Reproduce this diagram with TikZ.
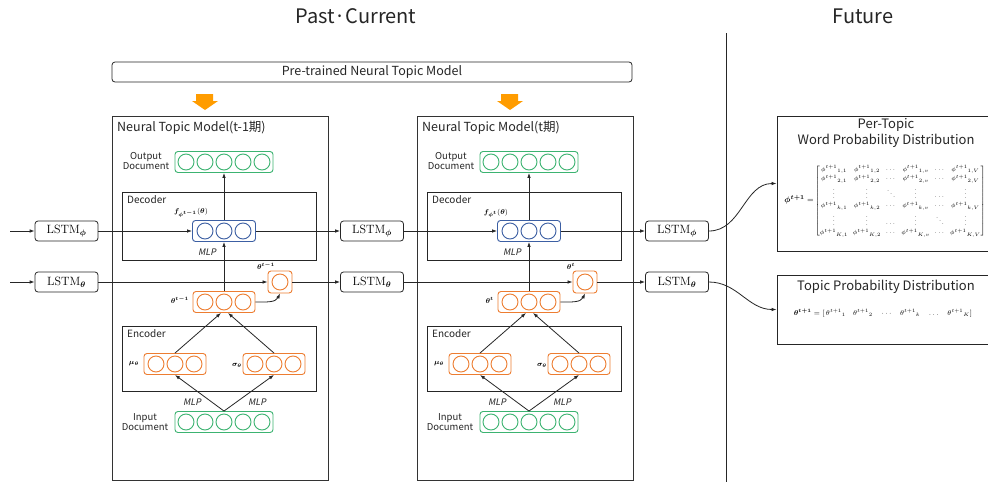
\documentclass[tikz,border=0pt]{standalone}
\usepackage{amsmath,bm}
\usepackage[no-math]{fontspec}
\newfontfamily\jp{Noto Sans CJK JP}
\newfontfamily\jpit{Noto Sans CJK JP}[FakeSlant=0.2]
\usetikzlibrary{arrows.meta,calc}
\definecolor{cgreen}{HTML}{3CB371}
\definecolor{corange}{HTML}{ED7D31}
\definecolor{cblue}{HTML}{3C5FA3}
\definecolor{carrow}{HTML}{FF9C00}
\newcommand\pe[1]{{\phi^{t+1}}_{#1}}
\newcommand\te[1]{{\theta^{t+1}}_{#1}}
\begin{document}
\begin{tikzpicture}[x=1pt,y=-1pt,
  >={Latex[length=5pt,width=3.6pt]},
  line/.style={line width=0.8pt, draw=black!85},
  arr/.style={line, ->},
  lstm/.style={draw=black!85, line width=0.8pt, rounded corners=3pt, minimum width=63pt, minimum height=20pt, inner sep=0pt, font=\fontsize{11.5}{13}\selectfont},
  ntm/.style={draw=black!80, line width=0.9pt, minimum width=216pt, minimum height=364pt, inner sep=0pt},
  sub/.style={draw=black!85, line width=0.9pt, minimum width=194pt, inner sep=0pt},
  vbox/.style={draw, fill=white, line width=0.9pt, rounded corners=3pt, minimum height=21pt, inner sep=0pt},
  gv/.style={vbox, draw=cgreen, minimum width=98pt},
  ov/.style={vbox, draw=corange, minimum width=62pt},
  bv/.style={vbox, draw=cblue, minimum width=63pt},
  sv/.style={vbox, draw=corange, minimum width=24pt, minimum height=22pt},
  circ/.style={line width=0.9pt},
  lab/.style={font=\jp\fontsize{9.5}{10}\selectfont, text=black!85, inner sep=0pt, align=center},
  mlp/.style={font=\jpit\fontsize{9}{10}\selectfont, text=black!85, inner sep=0pt},
  mth/.style={font=\fontsize{7}{8}\selectfont, inner sep=0pt},
  rbox/.style={draw=black!85, line width=0.9pt, minimum width=218pt, inner sep=0pt},
  rtitle/.style={font=\jp\fontsize{13}{15.5}\selectfont, text=black!85, align=center, inner sep=0pt}
]
\useasboundingbox (0,0) rectangle (988,482);
\fill[white] (0,0) rectangle (988,482);

% headings
\node[font=\jp\fontsize{20}{22}\selectfont, text=black!85] (tpast) at (356,16) {Past·Current};
\node[font=\jp\fontsize{20}{22}\selectfont, text=black!85] (tfut) at (863,16) {Future};
\draw[line width=1pt, black!85] (726,33) -- (726,482);

\node[draw=black!85, line width=0.8pt, rounded corners=3pt, minimum width=520pt, minimum height=20pt, inner sep=0pt, font=\jp\fontsize{12.5}{14}\selectfont, text=black!85] (pre) at (372,72) {Pre-trained Neural Topic Model};

\foreach \k/\dx/\ts/\ttl in {1/0/t-1/t-1期,2/305/t/t期}{
\begin{scope}[xshift=\dx pt]
  \fill[carrow] (196,94) -- (213,94) -- (213,101) -- (218,101) -- (205,110) -- (192,101) -- (196,101) -- cycle;
  \node[ntm] (ntm\k) at (220,298) {};
  \node[font=\jp\fontsize{12.5}{14}\selectfont, text=black!85, anchor=west, inner sep=0pt] (ttl\k) at (117,128) {Neural Topic Model(\ttl)};
  \node[sub, minimum height=68pt] (dec\k) at (219,226) {};
  \node[lab, anchor=west, font=\jp\fontsize{10}{10}\selectfont] (decl\k) at (127,200) {Decoder};
  \node[sub, minimum height=65pt] (enc\k) at (219,358.5) {};
  \node[lab, anchor=west, font=\jp\fontsize{10}{10}\selectfont] (encl\k) at (127,334) {Encoder};
  % vectors
  \node[gv] (out\k) at (224,162) {};
  \foreach \i in {-2,...,2} \draw[circ, cgreen] (224+\i*19,162) circle[radius=8pt];
  \node[lab] (outl\k) at (146,161) {Output\\Document};
  \node[gv] (in\k) at (224,422) {};
  \foreach \i in {-2,...,2} \draw[circ, cgreen] (224+\i*19,422) circle[radius=8pt];
  \node[lab] (inl\k) at (145,422) {Input\\Document};
  \node[bv] (blue\k) at (224,231) {};
  \foreach \i in {-1,0,1} \draw[circ, cblue] (224+\i*19,231) circle[radius=8pt];
  \node[ov] (th\k) at (224,302) {};
  \foreach \i in {-1,0,1} \draw[circ, corange] (224+\i*19,302) circle[radius=8pt];
  \node[ov] (mu\k) at (175,364) {};
  \foreach \i in {-1,0,1} \draw[circ, corange] (175+\i*19,364) circle[radius=8pt];
  \node[ov] (sg\k) at (274,364) {};
  \foreach \i in {-1,0,1} \draw[circ, corange] (274+\i*19,364) circle[radius=8pt];
  \node[sv] (sm\k) at (280,282) {};
  \draw[circ, corange] (280,282) circle[radius=8pt];
  % labels
  \node[mth] (fl\k) at (191,213) {$\bm{f}_{\bm{\phi}^{\bm{\ts}}}(\bm{\theta})$};
  \node[mlp] (mlpd\k) at (207,252) {MLP};
  \node[mth] (thl\k) at (266,266) {$\bm{\theta}^{\bm{\ts}}$};
  \node[mth, anchor=east] (thl2\k) at (189,300) {$\bm{\theta}^{\bm{\ts}}$};
  \node[mth] (mul\k) at (134,364) {$\bm{\mu}_{\bm{\theta}}$};
  \node[mth] (sgl\k) at (237,365) {$\bm{\sigma}_{\bm{\theta}}$};
  \node[mlp] (mlpa\k) at (192,402) {MLP};
  \node[mlp] (mlpb\k) at (257,402) {MLP};
  % arrows
  \draw[arr] (th\k.north) -- (blue\k.south);
  \draw[arr] (blue\k.north) -- (out\k.south);
  \draw[arr] (in\k.north) -- (mu\k.south);
  \draw[arr] (in\k.north) -- (sg\k.south);
  \draw[arr] (mu\k.north) -- ($(th\k.south)+(-3,0)$);
  \draw[arr] (sg\k.north) -- ($(th\k.south)+(4,0)$);
  \draw[arr] (th\k.east) to[out=0,in=-115] (sm\k.south);
\end{scope}
}

% LSTMs
\node[lstm] (lphi1) at (66.5,231) {$\mathrm{LSTM}_{\bm{\phi}}$};
\node[lstm] (lphi2) at (372,231) {$\mathrm{LSTM}_{\bm{\phi}}$};
\node[lstm] (lphi3) at (677,231) {$\mathrm{LSTM}_{\bm{\phi}}$};
\node[lstm] (lth1) at (66.5,282) {$\mathrm{LSTM}_{\bm{\theta}}$};
\node[lstm] (lth2) at (372,282) {$\mathrm{LSTM}_{\bm{\theta}}$};
\node[lstm] (lth3) at (677,282) {$\mathrm{LSTM}_{\bm{\theta}}$};
\coordinate (inphi) at (10,231);
\coordinate (inth) at (10,282);

\draw[arr] (inphi) -- (lphi1);
\draw[arr] (lphi1) -- (blue1);
\draw[arr] (blue1) -- (lphi2);
\draw[arr] (lphi2) -- (blue2);
\draw[arr] (blue2) -- (lphi3);
\draw[arr] (inth) -- (lth1);
\draw[arr] (lth1) -- (sm1);
\draw[arr] (sm1) -- (lth2);
\draw[arr] (lth2) -- (sm2);
\draw[arr] (sm2) -- (lth3);

% right boxes
\node[rbox, minimum height=135pt] (ptbox) at (886,183.5) {};
\node[rtitle] (pttl) at (886,133) {Per-Topic\\Word Probability Distribution};
\node[mth, font=\fontsize{6.5}{9.5}\selectfont] (phimat) at (885,201) {\mbox{\fontsize{8}{9}\selectfont$\bm{\phi}^{\bm{t+1}} =$}\,$\setlength{\arraycolsep}{2.4pt}\left[\begin{matrix}
\pe{1,1} & \pe{1,2} & \cdots & \pe{1,v} & \cdots & \pe{1,V}\\
\pe{2,1} & \pe{2,2} & \cdots & \pe{2,v} & \cdots & \pe{2,V}\\
\vdots & \vdots & \ddots & \vdots & \cdots & \vdots\\
\pe{k,1} & \pe{k,2} & \cdots & \pe{k,v} & \cdots & \pe{k,V}\\
\vdots & \vdots & \cdots & \vdots & \ddots & \vdots\\
\pe{K,1} & \pe{K,2} & \cdots & \pe{K,v} & \cdots & \pe{K,V}
\end{matrix}\right]$};
\node[rbox, minimum height=69pt] (tpbox) at (886,309.5) {};
\node[rtitle] (tpttl) at (886,287) {Topic Probability Distribution};
\node[mth, font=\fontsize{7.3}{8}\selectfont] (thvec) at (883,313) {$\bm{\theta}^{\bm{t+1}} = [\,\te{1} \quad \te{2} \quad \cdots \quad \te{k} \quad \ldots \quad \te{K}]$};

\draw[arr] (lphi3.east) to[out=0,in=180] (ptbox.west);
\draw[arr] (lth3.east) to[out=0,in=180] (tpbox.west);
\end{tikzpicture}
\end{document}
